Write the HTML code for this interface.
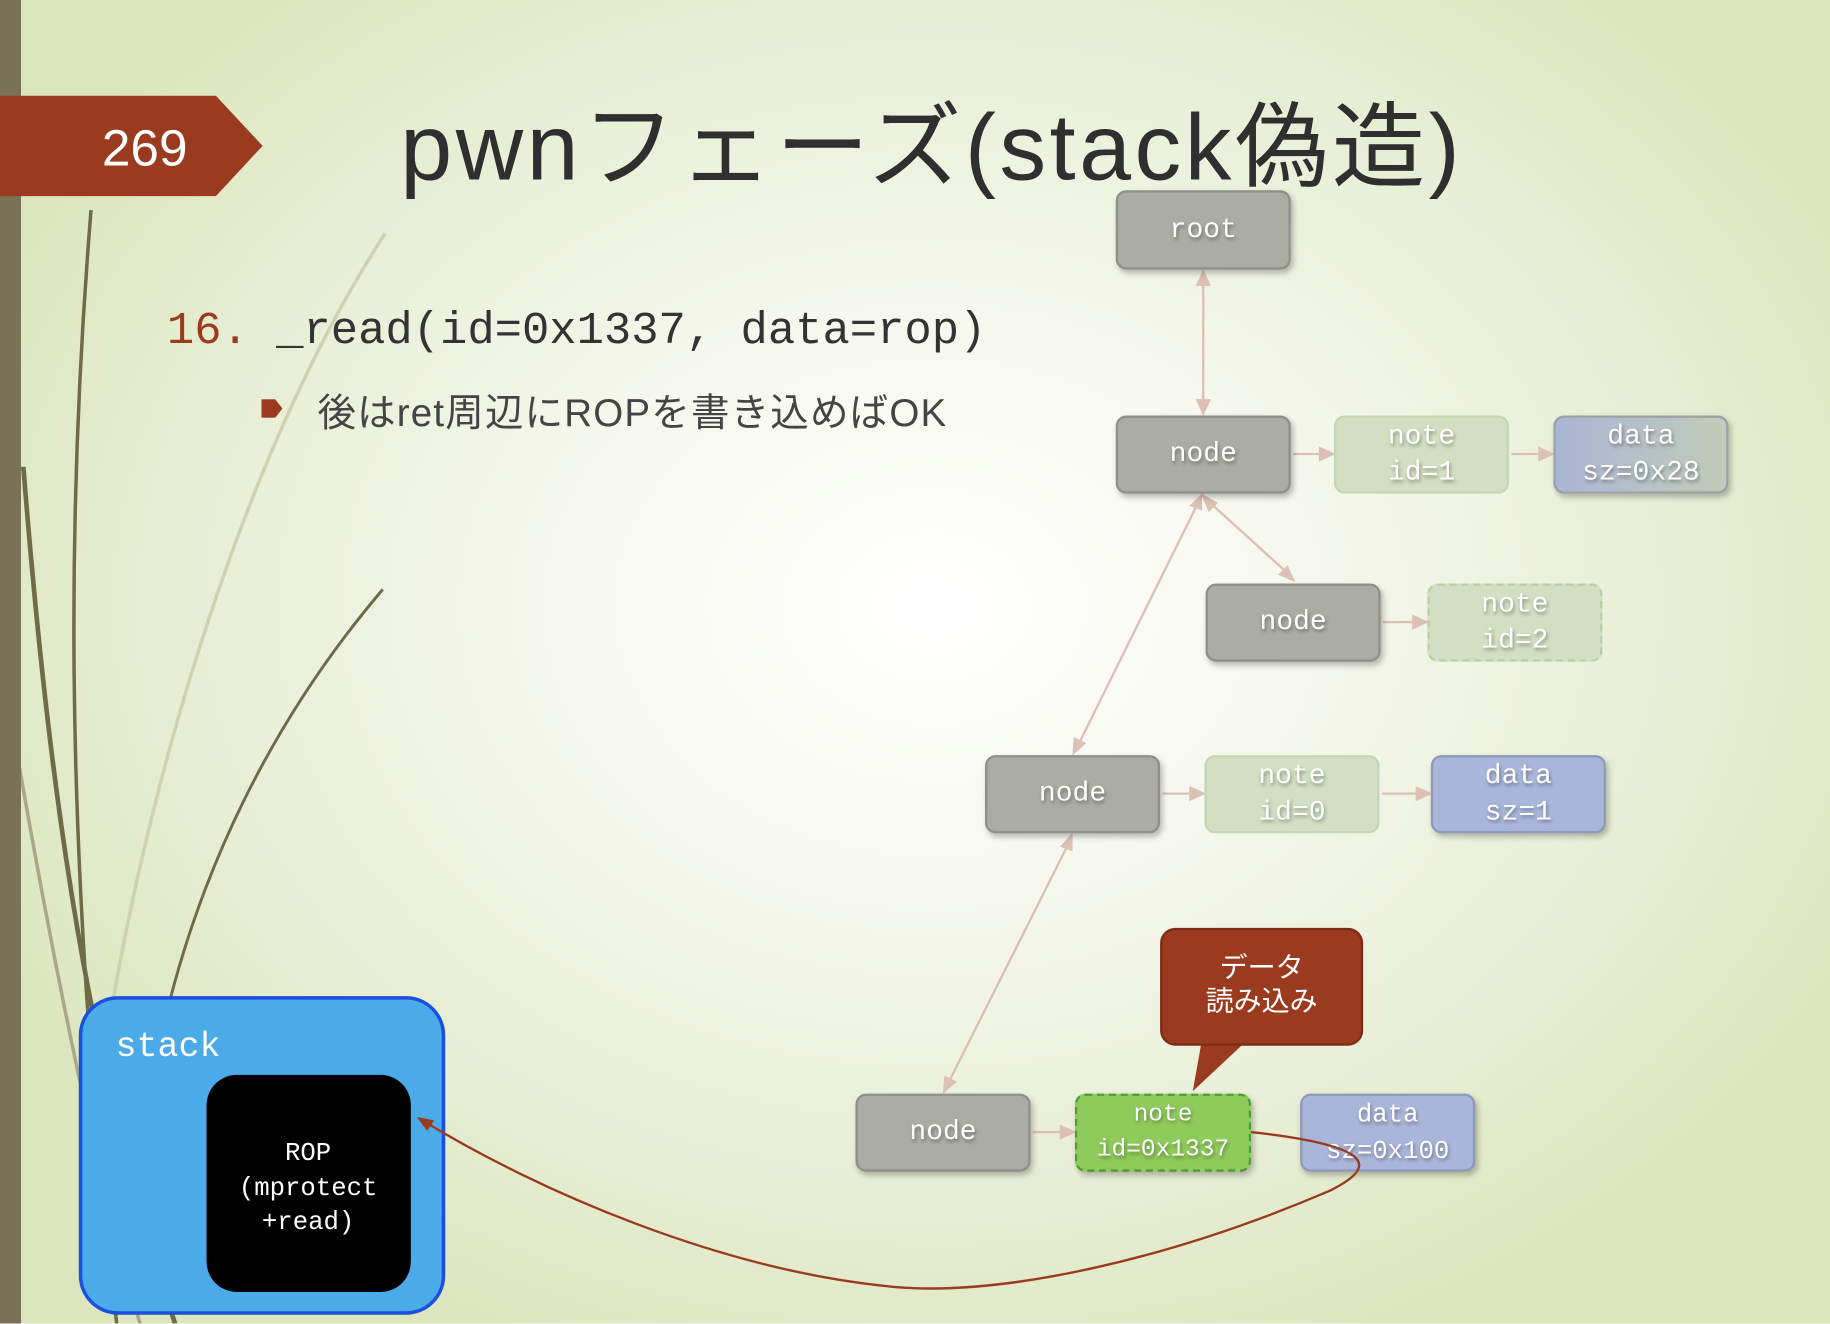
<!DOCTYPE html>
<html><head><meta charset="utf-8"><style>
html,body{margin:0;padding:0;width:1830px;height:1324px;overflow:hidden}
#s{position:absolute;left:0;top:0;width:1568px;height:1134px;transform:scale(1.16709);transform-origin:0 0;
background:radial-gradient(ellipse 900px 700px at 800px 520px,#ffffff 0%,#f6f8ee 35%,#e6edd2 75%,#dbe6bd 100%);
font-family:"Liberation Sans","Noto Sans CJK JP",sans-serif;overflow:hidden}
.b{position:absolute;box-sizing:border-box;border-radius:9px;color:#fff;font-family:"Liberation Mono","Noto Sans CJK JP",monospace;font-size:24px;display:flex;align-items:center;justify-content:center;text-align:center;line-height:31px;text-shadow:1px 2px 3px rgba(0,0,0,.35);box-shadow:2px 3px 5px rgba(0,0,0,.25)}
.g{background:#abaca4;border:2px solid #8f908a}
.n{background:#d2dfc2;border:2px solid #c3d8b2;box-shadow:none}
.d{background:linear-gradient(90deg,#aab6d6,#c0ccb8);border:2px solid #9aa1a5}
.d2{background:#a9b6da;border:2px solid #8e9ab8}
</style></head><body><div id="s">
<svg width="1568" height="1134" style="position:absolute;left:0;top:0">
<g fill="none" stroke="#6f6a48" stroke-width="3">
<path d="M78,180 C60,400 50,700 100,1134"/>
<path d="M20,400 C40,650 70,900 150,1134" stroke-width="4"/>
<path d="M328,505 C230,620 170,750 140,880" stroke-width="2.5"/>
<path d="M0,560 C40,800 80,1000 120,1134" stroke="#a9a68a" stroke-width="3"/>
<path d="M330,200 C200,400 120,700 90,900" stroke="#cfd2b0" stroke-width="3"/>
</g>
<rect x="0" y="0" width="18" height="1134" fill="#7a7256"/>
<polygon points="0,82 185,82 225,125 185,168 0,168" fill="#9a3a1f"/>
<text x="124" y="142" fill="#fff" font-size="44" text-anchor="middle" font-family="Liberation Sans,sans-serif">269</text>
<g stroke="#dcc0b5" stroke-width="2" fill="#dcc0b5">
<line x1="1031" y1="240" x2="1031" y2="346"/>
<polygon points="1031,233 1026,244 1036,244"/><polygon points="1031,354 1026,343 1036,343"/>
<line x1="1036" y1="430" x2="1102" y2="490"/>
<polygon points="1031,425 1036,437 1042,431"/><polygon points="1108,497 1097,492 1103,486"/>
<line x1="1026" y1="432" x2="924" y2="638"/>
<polygon points="1029,425 1021,433 1029,436"/><polygon points="920,645 921,633 929,637"/>
<line x1="915" y1="724" x2="813" y2="927"/>
<polygon points="918,716 910,725 918,728"/><polygon points="809,935 810,923 818,927"/>
<line x1="1108" y1="389" x2="1132" y2="389"/><polygon points="1142,389 1131,384 1131,394"/>
<line x1="1295" y1="389" x2="1320" y2="389"/><polygon points="1330,389 1319,384 1319,394"/>
<line x1="1185" y1="533" x2="1212" y2="533"/><polygon points="1222,533 1211,528 1211,538"/>
<line x1="996" y1="680" x2="1021" y2="680"/><polygon points="1031,680 1020,675 1020,685"/>
<line x1="1184" y1="680" x2="1215" y2="680"/><polygon points="1225,680 1214,675 1214,685"/>
<line x1="885" y1="970" x2="910" y2="970"/><polygon points="920,970 909,965 909,975"/>
</g>
</svg>
<div style="position:absolute;left:343px;top:62px;font-size:80px;color:#2f2f2f;white-space:nowrap;letter-spacing:3px">pwnフェーズ(stack偽造)</div>
<div style="position:absolute;left:143px;top:262px;font-family:'Liberation Mono',monospace;font-size:39px;color:#333;white-space:nowrap"><span style="color:#9a3a1f">16.</span> _read(id=0x1337, data=rop)</div>
<div style="position:absolute;left:224px;top:342px;width:18px;height:16px;background:#9a3a1f;clip-path:polygon(0 0,65% 0,100% 50%,65% 100%,0 100%)"></div>
<div style="position:absolute;left:272px;top:327px;font-size:33px;color:#444;white-space:nowrap;letter-spacing:1px">後はret周辺にROPを書き込めばOK</div>

<div class="b g" style="left:956px;top:163px;width:150px;height:68px">root</div>
<div class="b g" style="left:956px;top:356px;width:150px;height:67px">node</div>
<div class="b n" style="left:1143px;top:356px;width:150px;height:67px">note<br>id=1</div>
<div class="b d" style="left:1331px;top:356px;width:150px;height:67px">data<br>sz=0x28</div>
<div class="b g" style="left:1033px;top:500px;width:150px;height:67px">node</div>
<div class="b n" style="left:1223px;top:500px;width:150px;height:67px;border:2px dashed #b6d0a2">note<br>id=2</div>
<div class="b g" style="left:844px;top:647px;width:150px;height:67px">node</div>
<div class="b n" style="left:1032px;top:647px;width:150px;height:67px">note<br>id=0</div>
<div class="b d2" style="left:1226px;top:647px;width:150px;height:67px">data<br>sz=1</div>
<div class="b g" style="left:733px;top:937px;width:150px;height:67px">node</div>
<div class="b" style="left:921px;top:937px;width:151px;height:67px;background:#8fcb5b;border:2px dashed #4f9a3a;font-size:21px;line-height:30px">note<br>id=0x1337</div>
<div class="b d2" style="left:1114px;top:937px;width:150px;height:67px;font-size:22px">data<br>sz=0x100</div>

<svg width="1568" height="1134" style="position:absolute;left:0;top:0">
<polygon points="1030,890 1070,890 1022,935" fill="#9a3a1f"/>
<rect x="995" y="796" width="172" height="99" rx="12" fill="#9a3a1f" stroke="#7e2c16" stroke-width="2"/>
<text x="1081" y="837" fill="#fff" font-size="24" text-anchor="middle" font-family="Liberation Sans,Noto Sans CJK JP,sans-serif">データ</text>
<text x="1081" y="866" fill="#fff" font-size="24" text-anchor="middle" font-family="Liberation Sans,Noto Sans CJK JP,sans-serif">読み込み</text>
<rect x="69" y="855" width="311" height="270" rx="32" fill="#4baae8" stroke="#1b4fe0" stroke-width="3"/>
<text x="99" y="905" fill="#fff" font-size="30" font-family="Liberation Mono,monospace">stack</text>
<rect x="177" y="921" width="175" height="186" rx="26" fill="#000"/>
<g fill="#fff" font-size="22" text-anchor="middle" font-family="Liberation Mono,monospace">
<text x="264" y="994">ROP</text><text x="264" y="1024">(mprotect</text><text x="264" y="1053">+read)</text></g>
<path d="M1072,970 C1180,982 1180,1000 1140,1020 C1000,1080 860,1110 770,1103 C620,1090 460,1020 362,960" fill="none" stroke="#9a3a1f" stroke-width="2"/>
<polygon points="357,957 372,960 366,969" fill="#9a3a1f"/>
</svg>
</div></body></html>
